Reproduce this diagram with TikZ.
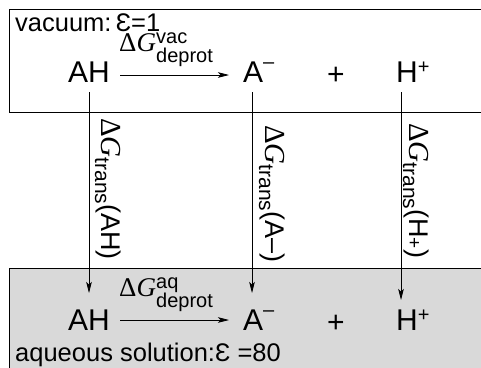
\documentclass[tikz,border=0pt]{standalone}
\usepackage{fontspec}
\setmainfont{Liberation Sans}
\newfontfamily\serif{Liberation Serif}
\usetikzlibrary{arrows.meta}
\newcommand\fs[1]{\fontsize{#1}{#1}\selectfont}
\newcommand\DGv{{\fs{29}\serif Δ\itshape G}}
\newcommand\DGh{{\fs{27}\serif Δ\itshape G}}
\tikzset{
  box/.style={draw=black, line width=0.8pt},
  spec/.style={anchor=base west, inner sep=0pt, font=\fs{30}},
  lab/.style={anchor=base west, inner sep=0pt, font=\fs{25.5}},
  scr/.style={anchor=base west, inner sep=0pt, font=\fs{20}},
  arr/.style={line width=0.7pt, -{Stealth[length=11pt,width=5.5pt,inset=2.5pt]}},
  vlab/.style={rotate=-90, anchor=base west, inner sep=0pt},
}
\begin{document}
\begin{tikzpicture}[x=1pt,y=-1pt]
\useasboundingbox (0,0) rectangle (481,367);
\clip (0,0) rectangle (481,367);
% boxes
\draw[box] (9,9) rectangle (495,112);
\draw[box, fill=black!15] (9,268) rectangle (495,380);
% labels
\node[lab] (vac) at (15,31) {vacuum:\,Ɛ=1};
\node[lab] (aq) at (15,361) {aqueous solution:Ɛ =80};
% top row
\node[spec] (AH1) at (68,82) {AH};
\node[spec] (A1) at (243,82) {A\raisebox{14pt}{\fs{20}–}};
\node[spec] (p1) at (327,84) {+};
\node[spec] (H1) at (396,82) {H\raisebox{9pt}{\fs{20}+}};
\coordinate (s1) at (120,75);
\coordinate (e1) at (229,75);
\draw[arr] (s1) -- (e1);
\node[anchor=base west, inner sep=0pt] (dg1) at (119,51) {\DGh};
\node[scr] (vacs) at (156,43) {vac};
\node[scr] (dep1) at (156,62) {deprot};
% bottom row
\node[spec] (AH2) at (68,330) {AH};
\node[spec] (A2) at (243,330) {A\raisebox{14pt}{\fs{20}–}};
\node[spec] (p2) at (327,332) {+};
\node[spec] (H2) at (396,330) {H\raisebox{9pt}{\fs{20}+}};
\coordinate (s2) at (120,320);
\coordinate (e2) at (229,320);
\draw[arr] (s2) -- (e2);
\node[anchor=base west, inner sep=0pt] (dg2) at (119,296) {\DGh};
\node[scr] (aqs) at (156,288) {aq};
\node[scr] (dep2) at (156,307) {deprot};
% vertical arrows
\coordinate (v1) at (89,92);
\coordinate (w1) at (89,293);
\coordinate (v2) at (252,92);
\coordinate (w2) at (252,293);
\coordinate (v3) at (401,92);
\coordinate (w3) at (401,300);
\draw[arr] (v1) -- (w1);
\draw[arr] (v2) -- (w2);
\draw[arr] (v3) -- (w3);
% rotated labels
\node[vlab] (t1) at (101,118) {\DGv\raisebox{-6pt}{\fs{21}trans}{\fs{27}(AH)}};
\node[vlab] (t2) at (265,125) {\DGv\raisebox{-6pt}{\fs{21}trans}{\fs{27}(A–)}};
\node[vlab] (t3) at (409,123) {\DGv\raisebox{-6pt}{\fs{21}trans}{\fs{27}(H\raisebox{-1pt}{\fs{19}+})}};
\end{tikzpicture}
\end{document}
